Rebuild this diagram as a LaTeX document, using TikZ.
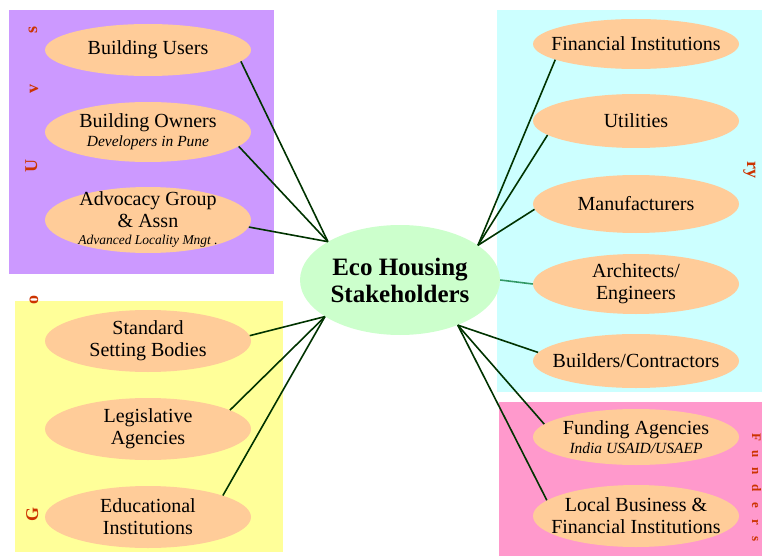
\documentclass[tikz,border=0pt]{standalone}
\usepackage{fontspec}
\setmainfont{Liberation Serif}
\usepackage{xcolor}
\usetikzlibrary{positioning, shapes.geometric}

\definecolor{usersbg}{HTML}{CC99FF}
\definecolor{govbg}{HTML}{FFFF99}
\definecolor{indbg}{HTML}{CCFFFF}
\definecolor{fundbg}{HTML}{FF99CC}
\definecolor{peach}{HTML}{FFCC99}
\definecolor{mint}{HTML}{CCFFCC}
\definecolor{linkgreen}{HTML}{003300}
\definecolor{tealgreen}{HTML}{339966}
\definecolor{tagred}{HTML}{CC3300}

\newcommand{\subline}[1]{{\fontsize{15.5}{17}\selectfont\itshape #1}}
\newcommand{\smallsub}[1]{{\fontsize{13.5}{15}\selectfont\itshape #1}}

\begin{document}
\begin{tikzpicture}[x=1pt, y=-1pt,
    sat/.style={ellipse, fill=peach, minimum width=206pt, minimum height=58pt,
        inner xsep=-14pt, inner ysep=-9pt, align=center,
        font=\fontsize{20}{22}\selectfont},
    hub/.style={ellipse, fill=mint, minimum width=200pt, minimum height=110pt,
        inner sep=0pt, align=center, font=\fontsize{25}{27}\selectfont\bfseries},
    link/.style={draw=linkgreen, line width=1.6pt},
    tag/.style={text=tagred, inner sep=0pt, anchor=base, font=\fontsize{18}{18}\selectfont\bfseries}]
    \useasboundingbox (0,0) rectangle (762,556);

    % group backgrounds
    \fill[usersbg] (9,10) rectangle (274,274);
    \fill[govbg] (15,301) rectangle (283,552);
    \fill[indbg] (497,10) rectangle (762,392);
    \fill[fundbg] (499,402) rectangle (762,556);

    % side letters
    \node[tag, rotate=90] (tu) at (37,166) {U};
    \node[tag, rotate=90] (tv) at (38,89) {v};
    \node[tag, rotate=90] (ts) at (37,30) {s};
    \node[tag, rotate=90] (tg) at (38,514) {G};
    \node[tag, rotate=90] (to) at (38,300) {o};
    \node[tag, rotate=-90] (try) at (747,170) {ry};
    \foreach \ch [count=\i] in {F,u,n,d,e,r,s}
        \node[tag, rotate=-90, font=\fontsize{13}{13}\selectfont\bfseries] (tf\i) at (752,420+17*\i) {\ch};

    % hub
    \node[hub] (hub) at (400,280) {Eco Housing\\Stakeholders};

    % users and government
    \node[sat, minimum height=52pt] (users) at (148,50) {Building Users};
    \node[sat, minimum height=60pt] (owners) at (148,132) {Building Owners\\[-3pt]\subline{Developers in Pune}};
    \node[sat, minimum height=66pt] (advocacy) at (148,220) {Advocacy Group\\\& Assn\\[-5pt]\smallsub{Advanced Locality Mngt .}};
    \node[sat, minimum height=62pt] (standard) at (148,341) {Standard\\Setting Bodies};
    \node[sat, minimum height=62pt] (legis) at (148,429) {Legislative\\Agencies};
    \node[sat, minimum height=62pt] (edu) at (148,517) {Educational\\Institutions};

    % industry and funders
    \node[sat, minimum height=50pt] (finance) at (636,44) {Financial Institutions};
    \node[sat, minimum height=54pt] (utilities) at (636,121) {Utilities};
    \node[sat] (manuf) at (636,204) {Manufacturers};
    \node[sat, minimum height=60pt] (archi) at (636,284) {Architects/\\Engineers};
    \node[sat, minimum height=54pt] (builders) at (636,361) {Builders/Contractors};
    \node[sat, minimum height=56pt] (funding) at (636,437) {Funding Agencies\\[-3pt]\subline{India USAID/USAEP}};
    \node[sat, minimum height=62pt] (localbiz) at (636,516) {Local Business \&\\Financial Institutions};

    % links
    \draw[link] (users.-7) -- (hub.152);
    \draw[link] (owners.-9) -- (hub.152);
    \draw[link] (advocacy.-4) -- (hub.152);
    \draw[link] (standard.3) -- (hub.206);
    \draw[link] (legis.13) -- (hub.206);
    \draw[link] (edu.16) -- (hub.206);
    \draw[link] (finance.191) -- (hub.24);
    \draw[link] (utilities.189) -- (hub.24);
    \draw[link] (manuf.183) -- (hub.24);
    \draw[draw=tealgreen, line width=1.6pt] (archi.west) -- (hub.east);
    \draw[link] (builders.175) -- (hub.-38);
    \draw[link] (funding.172) -- (hub.-38);
    \draw[link] (localbiz.170) -- (hub.-38);
\end{tikzpicture}
\end{document}
